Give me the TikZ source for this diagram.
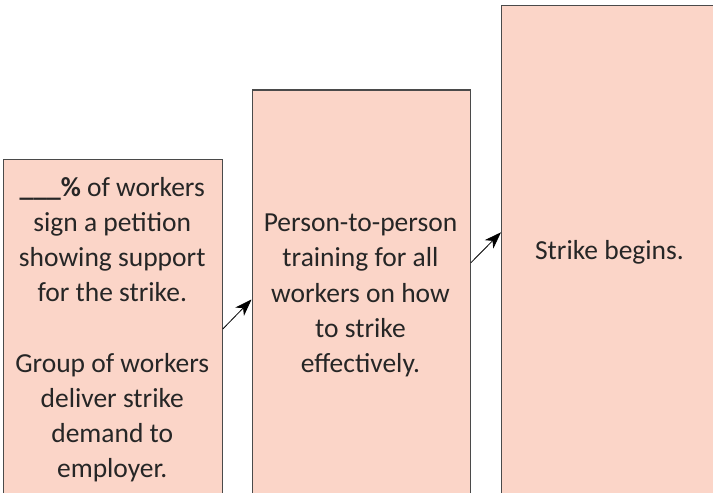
\documentclass[tikz,border=0pt]{standalone}
\usepackage{fontspec}
\setmainfont{Carlito}
\usetikzlibrary{arrows.meta}
\definecolor{boxfill}{HTML}{FBD5C8}
\definecolor{boxline}{HTML}{4A4A4A}
\definecolor{txt}{HTML}{262626}
\begin{document}
\begin{tikzpicture}[x=1pt,y=1pt,
  stagebox/.style={draw=boxline, fill=boxfill, line width=1.3pt, rectangle, inner sep=0pt, anchor=north west},
  stagetext/.style={align=center, text=txt, inner sep=0pt, font=\fontsize{27.5}{35.2}\selectfont},
  arr/.style={draw=black, line width=0.8pt, -{Stealth[length=17pt,width=12pt,inset=5pt]}}]
\useasboundingbox (0,0) rectangle (713,493);
\node[stagebox, minimum width=218.5pt, minimum height=340pt] (b1) at (3,334) {};
\node[stagebox, minimum width=218pt, minimum height=410pt] (b2) at (251.5,403.5) {};
\node[stagebox, minimum width=222pt, minimum height=494pt] (b3) at (501,488) {};
\node[stagetext] (t1) at (112.25,163.5) {\textbf{\_\_\_\%} of workers\\sign a petition\\showing support\\for the strike.\\[35.2pt]Group of workers\\deliver strike\\demand to\\employer.};
\node[stagetext] (t2) at (360.5,197.5) {Person-to-person\\training for all\\workers on how\\to strike\\effectively.};
\node[stagetext] (t3) at (609.5,241) {Strike begins.};
\draw[arr] ([yshift=171.3pt]b1.south east) -- ([yshift=201.3pt]b2.south west);
\draw[arr] ([yshift=238pt]b2.south east) -- ([yshift=268pt]b3.south west);
\end{tikzpicture}
\end{document}
